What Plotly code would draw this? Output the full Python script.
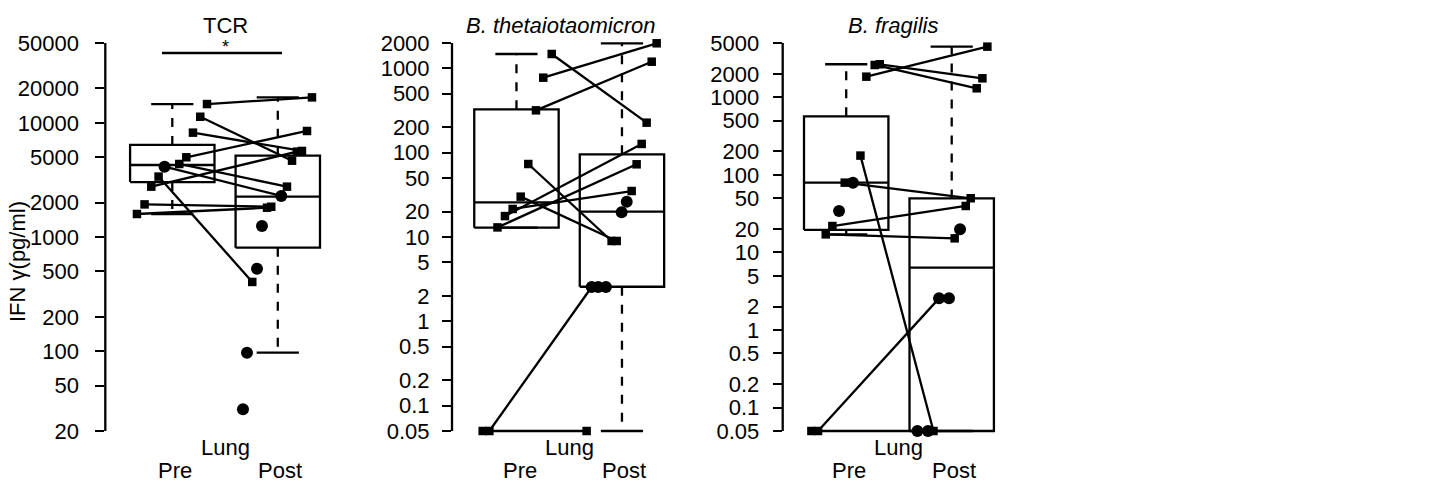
import numpy as np
import plotly.graph_objects as go

FIG_W, FIG_H = 1431, 487
FONT = "Liberation Sans, Arial, sans-serif"

# ---------------- text ----------------
panel_titles = ["TCR", "<i>B. thetaiotaomicron</i>", "<i>B. fragilis</i>"]
group_labels = ["Pre", "Post"]
xlabel = "Lung"
ylabel = "IFN γ(pg/ml)"
sig_label = "*"

# ---------------- tick values ----------------
tcr_ticks = [20, 50, 100, 200, 500, 1000, 2000, 5000, 10000, 20000, 50000]
bt_ticks = [0.05, 0.1, 0.2, 0.5, 1, 2, 5, 10, 20, 50, 100, 200, 500, 1000, 2000]
bf_ticks = [0.05, 0.1, 0.2, 0.5, 1, 2, 5, 10, 20, 50, 100, 200, 500, 1000, 2000, 5000]

# ---------------- TCR ----------------
tcr_pre_vals = [14600, 11300, 8200, 4990, 4360, 4130, 3380, 2760, 1930, 1590]
tcr_pre_sym = ["s", "s", "s", "s", "s", "c", "s", "s", "s", "s"]
tcr_pre_jit = [0.329, 0.265, 0.196, 0.133, 0.066, -0.073, -0.130, -0.199, -0.263, -0.335]
tcr_post_vals = [16700, 8480, 5670, 5590, 4660, 2760, 2290, 1840, 1805, 1250, 528, 404, 97, 31]
tcr_post_sym = ["s", "s", "s", "s", "s", "s", "c", "s", "s", "c", "c", "s", "c", "c"]
tcr_post_jit = [0.324, 0.277, 0.229, 0.182, 0.135, 0.087, 0.033, -0.062, -0.102, -0.150,
                -0.197, -0.242, -0.292, -0.330]
tcr_pairs = [(0, 0), (1, 4), (2, 2), (3, 1), (4, 5), (5, 6), (6, 11), (7, 3), (8, 7), (9, 8)]
# box stats: lower whisker, Q1, median, Q3, upper whisker
tcr_pre_box = [1590, 3030, 4270, 6400, 14600]
tcr_post_box = [97, 806, 2255, 5150, 16700]

# ---------------- B. thetaiotaomicron ----------------
bt_pre_vals = [1482, 776, 318, 73.4, 30.1, 21.5, 17.7, 13.0, 0.05, 0.05]
bt_pre_sym = ["s"] * 10
bt_pre_jit = [0.334, 0.254, 0.185, 0.112, 0.040, -0.036, -0.109, -0.180, -0.257, -0.320]
bt_post_vals = [1985, 1200, 227, 127, 72.8, 35.1, 26.2, 19.6, 8.97, 8.97, 2.55, 2.55, 2.55, 0.05]
bt_post_sym = ["s", "s", "s", "s", "s", "s", "c", "c", "s", "s", "c", "c", "c", "s"]
bt_post_jit = [0.329, 0.282, 0.234, 0.187, 0.139, 0.092, 0.045, -0.003, -0.050, -0.098,
               -0.152, -0.225, -0.287, -0.335]
bt_pairs = [(0, 2), (1, 0), (2, 1), (3, 9), (4, 8), (5, 5), (6, 3), (7, 4), (8, 12), (9, 13)]
bt_pre_box = [12.9, 12.9, 25.8, 327, 1482]
bt_post_box = [0.05, 2.57, 19.96, 95.7, 1985]

# ---------------- B. fragilis ----------------
bf_pre_vals = [2660, 2604, 1841, 177, 79.3, 79.3, 34.2, 21.9, 17.1, 0.05, 0.05]
bf_pre_sym = ["s", "s", "s", "s", "c", "s", "c", "s", "s", "s", "s"]
bf_pre_jit = [0.318, 0.270, 0.191, 0.135, 0.064, -0.014, -0.068, -0.131, -0.194, -0.267, -0.330]
bf_post_vals = [4487, 1754, 1304, 49.9, 39.7, 19.9, 15.2, 2.56, 2.56, 0.05, 0.05, 0.05]
bf_post_sym = ["s", "s", "s", "s", "s", "c", "s", "c", "c", "s", "c", "c"]
bf_post_jit = [0.338, 0.291, 0.237, 0.180, 0.133, 0.079, 0.028, -0.026, -0.120, -0.173,
               -0.225, -0.325]
bf_pairs = [(2, 0), (1, 2), (0, 1), (3, 9), (5, 3), (7, 4), (8, 6), (9, 8), (10, 11)]
bf_pre_box = [17.1, 19.5, 79.3, 568, 2660]
bf_post_box = [0.05, 0.05, 6.36, 49.6, 4487]

panels = [
    dict(ticks=tcr_ticks, pre=(tcr_pre_vals, tcr_pre_sym, tcr_pre_jit),
         post=(tcr_post_vals, tcr_post_sym, tcr_post_jit), pairs=tcr_pairs,
         boxes=(tcr_pre_box, tcr_post_box)),
    dict(ticks=bt_ticks, pre=(bt_pre_vals, bt_pre_sym, bt_pre_jit),
         post=(bt_post_vals, bt_post_sym, bt_post_jit), pairs=bt_pairs,
         boxes=(bt_pre_box, bt_post_box)),
    dict(ticks=bf_ticks, pre=(bf_pre_vals, bf_pre_sym, bf_pre_jit),
         post=(bf_post_vals, bf_post_sym, bf_post_jit), pairs=bf_pairs,
         boxes=(bf_pre_box, bf_post_box)),
]

# ---------------- layout geometry (pixels) ----------------
UNIT = 105.5                      # px per category unit
axis_left_px = [105.3, 452.0, 782.7]
x_lo = [0.365, 0.389, 0.398]
x_hi = 2.62
tick_top_px, tick_bot_px = 43.0, 431.0
PAD = 0.04
span_px = tick_bot_px - tick_top_px
dom_top_px = tick_top_px - PAD * span_px
dom_bot_px = tick_bot_px + PAD * span_px
ydom = [1 - dom_bot_px / FIG_H, 1 - dom_top_px / FIG_H]
standoff = [12, 8, 9]

BOX_HW, CAP_HW = 0.4, 0.2
LW = 2.3

fig = go.Figure()
layout = dict(width=FIG_W, height=FIG_H, margin=dict(l=0, r=0, t=0, b=0),
              paper_bgcolor="white", plot_bgcolor="white", showlegend=False,
              font=dict(family=FONT, size=22, color="black"))
shapes, annotations = [], []


def px2paper_x(px):
    return px / FIG_W


def px2paper_y(py):
    return 1 - py / FIG_H


for i, p in enumerate(panels):
    sfx = "" if i == 0 else str(i + 1)
    xa, ya = "x" + sfx, "y" + sfx
    left = axis_left_px[i]
    right = left + (x_hi - x_lo[i]) * UNIT
    lmin, lmax = np.log10(p["ticks"][0]), np.log10(p["ticks"][-1])
    lspan = lmax - lmin
    yrange = [lmin - PAD * lspan, lmax + PAD * lspan]
    layout["xaxis" + sfx] = dict(domain=[left / FIG_W, right / FIG_W], range=[x_lo[i], x_hi],
                                 visible=False, anchor=ya)
    layout["yaxis" + sfx] = dict(domain=ydom, type="log", range=yrange, anchor=xa,
                                 tickmode="array", tickvals=p["ticks"],
                                 ticktext=[f"{v:g}" for v in p["ticks"]],
                                 ticks="outside", ticklen=9, tickwidth=LW, tickcolor="black",
                                 showgrid=False, zeroline=False, showline=False,
                                 ticklabelstandoff=standoff[i],
                                 tickfont=dict(size=22, family=FONT, color="black"))

    # axis line only between first and last tick
    def yfrac(v, lo=yrange[0], hi=yrange[1]):
        return ydom[0] + (np.log10(v) - lo) / (hi - lo) * (ydom[1] - ydom[0])
    shapes.append(dict(type="line", xref="paper", yref="paper",
                       x0=left / FIG_W, x1=left / FIG_W,
                       y0=yfrac(p["ticks"][0]), y1=yfrac(p["ticks"][-1]),
                       line=dict(color="black", width=LW)))

    # boxes
    for g, stats in enumerate(p["boxes"]):
        c = g + 1
        lo, q1, med, q3, hi = stats
        fig.add_trace(go.Scatter(x=[c - BOX_HW, c + BOX_HW, c + BOX_HW, c - BOX_HW, c - BOX_HW],
                                 y=[q1, q1, q3, q3, q1], mode="lines", xaxis=xa, yaxis=ya,
                                 line=dict(color="black", width=LW), hoverinfo="skip"))
        fig.add_trace(go.Scatter(x=[c - BOX_HW, c + BOX_HW], y=[med, med], mode="lines",
                                 xaxis=xa, yaxis=ya, line=dict(color="black", width=LW),
                                 hoverinfo="skip"))
        fig.add_trace(go.Scatter(x=[c, c, None, c, c], y=[q3, hi, None, q1, lo], mode="lines",
                                 xaxis=xa, yaxis=ya,
                                 line=dict(color="black", width=LW, dash="9px,9px"),
                                 hoverinfo="skip"))
        fig.add_trace(go.Scatter(x=[c - CAP_HW, c + CAP_HW, None, c - CAP_HW, c + CAP_HW],
                                 y=[hi, hi, None, lo, lo], mode="lines", xaxis=xa, yaxis=ya,
                                 line=dict(color="black", width=LW), hoverinfo="skip"))

    pre_v, pre_s, pre_j = p["pre"]
    post_v, post_s, post_j = p["post"]
    # paired lines
    lx, ly = [], []
    for a, b in p["pairs"]:
        lx += [1 + pre_j[a], 2 + post_j[b], None]
        ly += [pre_v[a], post_v[b], None]
    fig.add_trace(go.Scatter(x=lx, y=ly, mode="lines", xaxis=xa, yaxis=ya,
                             line=dict(color="black", width=LW), hoverinfo="skip"))
    # points
    for vals, syms, jit, c in [(pre_v, pre_s, pre_j, 1), (post_v, post_s, post_j, 2)]:
        for sym, msym, msize in [("s", "square", 8.5), ("c", "circle", 12)]:
            xs = [c + j for j, s in zip(jit, syms) if s == sym]
            ys = [v for v, s in zip(vals, syms) if s == sym]
            if xs:
                fig.add_trace(go.Scatter(x=xs, y=ys, mode="markers", xaxis=xa, yaxis=ya,
                                         cliponaxis=False,
                                         marker=dict(symbol=msym, size=msize, color="black",
                                                     line=dict(width=0))))

# titles and labels (pixel-positioned text)
title_px = [226, 561, 893]
for i in range(3):
    annotations.append(dict(text=panel_titles[i], x=px2paper_x(title_px[i]), y=px2paper_y(25.5),
                            xref="paper", yref="paper", showarrow=False,
                            xanchor="center", yanchor="middle", font=dict(size=22)))
    sfx = "" if i == 0 else str(i + 1)
    for g, lab in enumerate(group_labels):
        annotations.append(dict(text=lab, x=g + 1 + (0.03 if g == 0 else 0.02), y=px2paper_y(470),
                                xref="x" + sfx, yref="paper", showarrow=False,
                                xanchor="center", yanchor="middle", font=dict(size=22)))
    annotations.append(dict(text=xlabel, x=1.5, y=px2paper_y(447), xref="x" + sfx, yref="paper",
                            showarrow=False, xanchor="center", yanchor="middle",
                            font=dict(size=22)))

annotations.append(dict(text=ylabel, x=px2paper_x(17), y=px2paper_y(262), xref="paper",
                        yref="paper", textangle=-90, showarrow=False, xanchor="center",
                        yanchor="middle", font=dict(size=22)))

# significance bar for TCR
shapes.append(dict(type="line", xref="paper", yref="paper",
                   x0=px2paper_x(162), x1=px2paper_x(282), y0=px2paper_y(53), y1=px2paper_y(53),
                   line=dict(color="black", width=LW)))
annotations.append(dict(text=sig_label, x=px2paper_x(226), y=px2paper_y(47), xref="paper",
                        yref="paper", showarrow=False, xanchor="center", yanchor="middle",
                        font=dict(size=18)))

layout["shapes"] = shapes
layout["annotations"] = annotations
fig.update_layout(**layout)
fig.write_html("out.html")
